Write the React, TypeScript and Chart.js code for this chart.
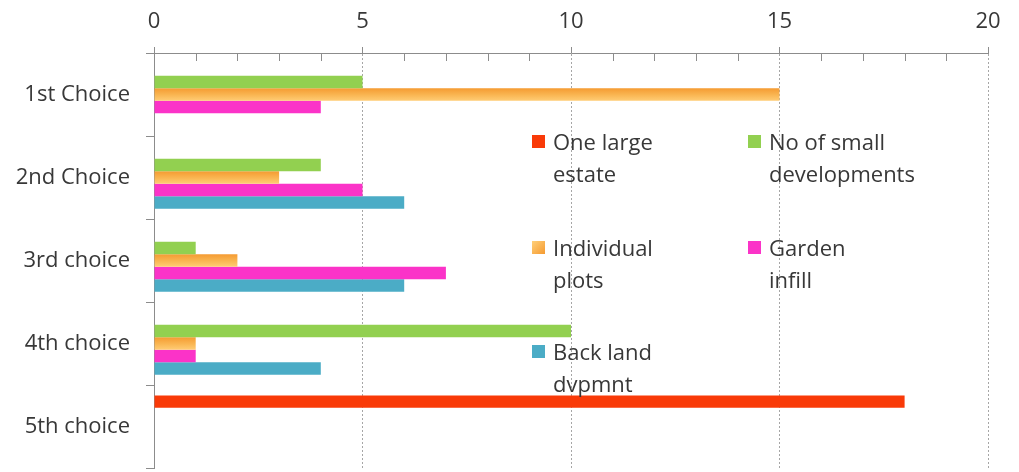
import React, { useEffect, useRef } from "react";
import { Chart, registerables } from "chart.js";

Chart.register(...registerables);

const categories = ["1st Choice", "2nd Choice", "3rd choice", "4th choice", "5th choice"];
const seriesNames = [
  "One large estate",
  "No of small developments",
  "Individual plots",
  "Garden infill",
  "Back land dvpmnt",
];
const legendLines = [
  ["One large", "estate"],
  ["No of small", "developments"],
  ["Individual", "plots"],
  ["Garden", "infill"],
  ["Back land", "dvpmnt"],
];
const oneLargeEstate = [0, 0, 0, 0, 18];
const smallDevelopments = [5, 4, 1, 10, 0];
const individualPlots = [15, 3, 2, 1, 0];
const gardenInfill = [4, 5, 7, 1, 0];
const backLand = [0, 6, 6, 4, 0];
const seriesValues = [oneLargeEstate, smallDevelopments, individualPlots, gardenInfill, backLand];
const seriesColors = ["#F93A08", "#92D050", "#F7A73C", "#FB33C8", "#4BACC6"];
const xMin = 0;
const xMax = 20;
const xMajorStep = 5;

const FONT = "'Open Sans'";
const FONT_SIZE = 22;
const TEXT = "#383838";
const AXIS = "#8C8C8C";
const CAT_PCT = 0.75;

function orangeGradient(ctx: any) {
  const chart = ctx.chart;
  const y = chart.scales && chart.scales.y;
  if (!y || ctx.dataIndex === undefined || !chart.chartArea) return seriesColors[2];
  const c = y.getPixelForValue(ctx.dataIndex);
  const band = Math.abs(y.getPixelForValue(1) - y.getPixelForValue(0));
  const t = (band * CAT_PCT) / seriesValues.length;
  const g = chart.ctx.createLinearGradient(0, c - t / 2, 0, c + t / 2);
  g.addColorStop(0, "#F59B32");
  g.addColorStop(0.5, "#F9B450");
  g.addColorStop(1, "#FFCC74");
  return g;
}

const overlayPlugin = {
  id: "overlay",
  afterDraw(chart: any) {
    const { ctx, scales, chartArea } = chart;
    const x = scales.x;
    ctx.save();
    ctx.strokeStyle = AXIS;
    ctx.lineWidth = 1;
    for (let v = xMin + 1; v < xMax; v++) {
      if (v % xMajorStep === 0) continue;
      const px = Math.round(x.getPixelForValue(v)) + 0.5;
      ctx.beginPath();
      ctx.moveTo(px, chartArea.top);
      ctx.lineTo(px, chartArea.top + 8);
      ctx.stroke();
    }
    const sqX = [532, 748];
    const txX = [553, 769];
    const base = [150, 256, 360];
    const lh = 32;
    ctx.font = `${FONT_SIZE}px ${FONT}`;
    ctx.textBaseline = "alphabetic";
    ctx.textAlign = "left";
    seriesNames.forEach((_, i) => {
      const col = i % 2;
      const row = Math.floor(i / 2);
      const b = base[row];
      if (i === 2) {
        const g = ctx.createLinearGradient(sqX[col], b - 15, sqX[col] + 13, b - 2);
        g.addColorStop(0, "#FFD07A");
        g.addColorStop(1, "#F59A30");
        ctx.fillStyle = g;
      } else {
        ctx.fillStyle = seriesColors[i];
      }
      ctx.fillRect(sqX[col], b - 15, 13, 13);
      ctx.fillStyle = TEXT;
      legendLines[i].forEach((line, k) => {
        ctx.fillText(line, txX[col], b + k * lh);
      });
    });
    ctx.restore();
  },
};

export default function App() {
  const ref = useRef<HTMLCanvasElement>(null);
  useEffect(() => {
    if (!ref.current) return;
    const chart = new Chart(ref.current, {
      type: "bar",
      data: {
        labels: categories,
        datasets: seriesNames.map((name, i) => ({
          label: name,
          data: seriesValues[i],
          backgroundColor: i === 2 ? orangeGradient : seriesColors[i],
          borderWidth: 0,
          categoryPercentage: CAT_PCT,
          barPercentage: 1,
        })),
      },
      options: {
        indexAxis: "y",
        animation: false,
        responsive: true,
        maintainAspectRatio: false,
        layout: { padding: { left: 0, right: 31, top: 0, bottom: 4 } },
        plugins: { legend: { display: false }, tooltip: { enabled: false } },
        scales: {
          x: {
            position: "top",
            min: xMin,
            max: xMax,
            afterFit: (s: any) => {
              s.height = 53;
            },
            ticks: {
              stepSize: 1,
              autoSkip: false,
              maxRotation: 0,
              padding: 12,
              color: TEXT,
              font: { family: FONT, size: FONT_SIZE },
              callback: (v: any) => (Number(v) % xMajorStep === 0 ? String(v) : ""),
            },
            grid: {
              color: (c: any) =>
                c.tick && c.tick.value % xMajorStep === 0 && c.tick.value !== 0 ? "#A6A6A6" : "rgba(0,0,0,0)",
              tickColor: (c: any) =>
                c.tick && c.tick.value % xMajorStep === 0 ? AXIS : "rgba(0,0,0,0)",
              tickLength: 6,
              lineWidth: 1,
            },
            border: { display: true, color: AXIS, width: 1, dash: [2, 2] },
          },
          y: {
            afterFit: (s: any) => {
              s.width = 154;
              s.paddingTop = 0;
              s.paddingBottom = 0;
            },
            ticks: {
              padding: 16,
              color: TEXT,
              font: { family: FONT, size: FONT_SIZE },
            },
            grid: {
              drawOnChartArea: false,
              drawTicks: true,
              tickLength: 8,
              tickColor: AXIS,
              offset: true,
            },
            border: { display: true, color: AXIS, width: 1 },
          },
        },
      },
      plugins: [overlayPlugin],
    } as any);
    return () => chart.destroy();
  }, []);
  return (
    <div style={{ position: "fixed", left: 0, top: 0, width: 1019, height: 472, background: "#fff" }}>
      <canvas ref={ref} />
    </div>
  );
}
